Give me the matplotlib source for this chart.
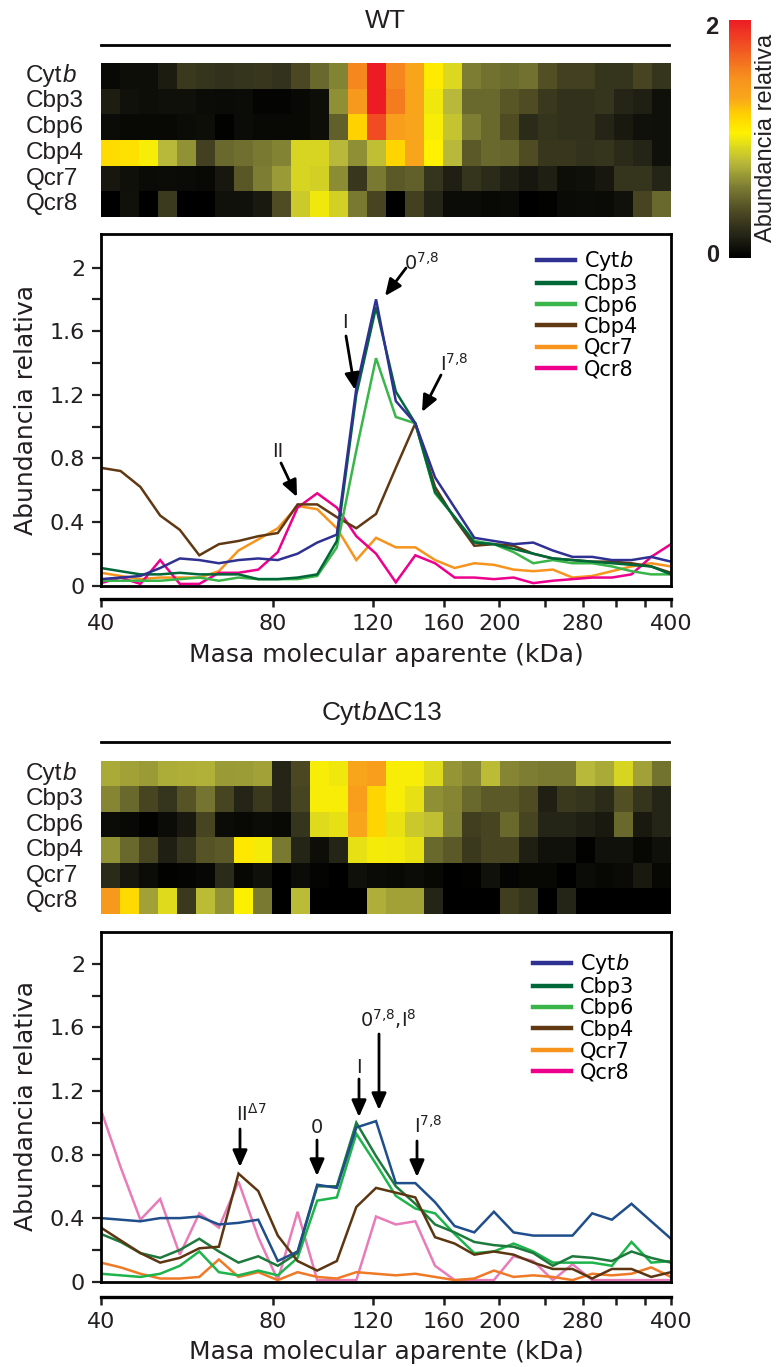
import matplotlib
matplotlib.use('Agg')
import matplotlib.pyplot as plt
from matplotlib.colors import LinearSegmentedColormap
from matplotlib.lines import Line2D
from matplotlib.text import Annotation
from matplotlib.ticker import NullLocator, NullFormatter, FixedLocator

plt.rcParams['mathtext.fontset'] = 'custom'
plt.rcParams['mathtext.rm'] = 'DejaVu Sans'
plt.rcParams['mathtext.it'] = 'DejaVu Sans:italic'

# ---------------- data ----------------
proteins = ['Cytb', 'Cbp3', 'Cbp6', 'Cbp4', 'Qcr7', 'Qcr8']
legend_labels = ['Cyt$\\it{b}$', 'Cbp3', 'Cbp6', 'Cbp4', 'Qcr7', 'Qcr8']

mw = [40.0, 43.3, 46.9, 50.8, 55.0, 59.5, 64.4, 69.7, 75.5, 81.7, 88.5, 95.8,
      103.7, 112.2, 121.5, 131.6, 142.4, 154.2, 166.9, 180.7, 195.6, 211.8,
      229.3, 248.2, 268.7, 290.9, 315.0, 341.0, 369.2, 400.0]

xticks = [40, 80, 120, 160, 200, 240, 280, 320, 360, 400]
xticklabels = ['40', '80', '120', '160', '200', '', '280', '', '', '400']
yticks = [0, 0.2, 0.4, 0.6, 0.8, 1.0, 1.2, 1.4, 1.6, 1.8, 2.0]
yticklabels = ['0', '', '0.4', '', '0.8', '', '1.2', '', '1.6', '', '2']

# WT heatmap (rows = proteins, 30 fractions)
wt_heat_cytb = [0.05,0.08,0.08,0.15,0.30,0.28,0.26,0.28,0.29,0.27,0.38,0.52,0.62,1.55,2.00,1.55,1.35,1.08,0.93,0.60,0.55,0.53,0.55,0.42,0.34,0.34,0.28,0.28,0.36,0.28]
wt_heat_cbp3 = [0.16,0.10,0.08,0.09,0.09,0.07,0.06,0.07,0.03,0.03,0.05,0.08,0.66,1.45,2.00,1.60,1.35,1.00,0.80,0.52,0.52,0.44,0.40,0.30,0.26,0.26,0.28,0.20,0.17,0.09]
wt_heat_cbp6 = [0.07,0.05,0.05,0.05,0.07,0.08,0.02,0.07,0.05,0.05,0.05,0.08,0.48,1.20,1.80,1.40,1.35,1.03,0.85,0.60,0.52,0.40,0.23,0.28,0.26,0.26,0.20,0.14,0.10,0.09]
wt_heat_cbp4 = [1.15,1.13,1.03,0.80,0.67,0.34,0.52,0.54,0.58,0.62,0.92,0.92,0.80,0.66,0.83,1.18,1.35,1.05,0.80,0.46,0.52,0.50,0.40,0.29,0.29,0.27,0.28,0.23,0.20,0.09]
wt_heat_qcr7 = [0.13,0.09,0.06,0.07,0.06,0.05,0.13,0.45,0.60,0.70,0.92,0.90,0.65,0.29,0.58,0.46,0.48,0.28,0.17,0.28,0.23,0.17,0.13,0.17,0.08,0.09,0.13,0.28,0.28,0.20]
wt_heat_qcr8 = [0.00,0.10,0.00,0.31,0.00,0.00,0.10,0.10,0.14,0.40,0.88,1.00,0.90,0.58,0.36,0.00,0.34,0.20,0.07,0.07,0.05,0.06,0.00,0.02,0.06,0.07,0.06,0.10,0.36,0.52]

# Cytb-dC13 heatmap
mut_heat_cytb = [0.75,0.72,0.70,0.76,0.77,0.78,0.70,0.71,0.72,0.20,0.38,1.03,1.00,1.35,1.40,1.03,1.03,0.94,0.68,0.63,0.82,0.63,0.60,0.58,0.58,0.80,0.75,0.92,0.72,0.56]
mut_heat_cbp3 = [0.63,0.52,0.36,0.28,0.43,0.57,0.36,0.20,0.30,0.20,0.36,1.03,1.03,1.40,1.18,1.03,0.97,0.66,0.63,0.52,0.46,0.46,0.40,0.17,0.30,0.28,0.23,0.42,0.28,0.20]
mut_heat_cbp6 = [0.07,0.05,0.02,0.07,0.14,0.36,0.07,0.05,0.07,0.05,0.28,0.95,0.97,1.35,1.18,0.98,0.87,0.83,0.62,0.33,0.36,0.52,0.36,0.20,0.20,0.17,0.14,0.52,0.14,0.20]
mut_heat_cbp4 = [0.67,0.52,0.36,0.17,0.28,0.43,0.46,1.10,1.02,0.58,0.20,0.08,0.20,0.97,1.02,1.01,0.98,0.52,0.46,0.30,0.36,0.36,0.17,0.10,0.10,0.02,0.10,0.10,0.04,0.09]
mut_heat_qcr7 = [0.23,0.13,0.07,0.02,0.03,0.04,0.23,0.04,0.09,0.00,0.07,0.03,0.00,0.09,0.06,0.05,0.07,0.04,0.00,0.02,0.10,0.03,0.04,0.04,0.00,0.07,0.04,0.06,0.14,0.04]
mut_heat_qcr8 = [1.45,1.16,0.72,0.95,0.30,0.82,0.67,1.04,0.58,0.00,0.82,0.00,0.00,0.00,0.77,0.72,0.72,0.20,0.00,0.00,0.00,0.33,0.28,0.00,0.20,0.00,0.00,0.00,0.00,0.00]

# WT profiles
wt_cytb = [0.04,0.05,0.06,0.11,0.17,0.16,0.14,0.16,0.17,0.16,0.20,0.27,0.32,1.24,1.80,1.16,1.02,0.68,0.49,0.30,0.28,0.26,0.27,0.22,0.18,0.18,0.16,0.16,0.18,0.15]
wt_cbp3 = [0.11,0.09,0.07,0.07,0.08,0.07,0.07,0.07,0.04,0.04,0.05,0.07,0.28,1.20,1.75,1.22,1.02,0.59,0.43,0.27,0.26,0.23,0.20,0.17,0.16,0.15,0.14,0.13,0.12,0.07]
wt_cbp6 = [0.03,0.03,0.03,0.03,0.04,0.05,0.03,0.05,0.04,0.04,0.04,0.06,0.24,0.85,1.43,1.06,1.02,0.58,0.43,0.28,0.26,0.21,0.14,0.16,0.14,0.14,0.12,0.09,0.07,0.07]
wt_cbp4 = [0.74,0.72,0.62,0.44,0.35,0.19,0.26,0.28,0.31,0.33,0.51,0.51,0.43,0.36,0.45,0.74,1.02,0.62,0.42,0.25,0.26,0.25,0.20,0.17,0.16,0.15,0.15,0.14,0.12,0.08]
wt_qcr7 = [0.08,0.06,0.04,0.05,0.05,0.05,0.09,0.22,0.29,0.36,0.50,0.48,0.36,0.16,0.30,0.24,0.24,0.16,0.11,0.14,0.13,0.10,0.09,0.10,0.05,0.06,0.09,0.12,0.14,0.12]
wt_qcr8 = [0.015,0.05,0.01,0.16,0.01,0.01,0.08,0.08,0.10,0.21,0.49,0.58,0.49,0.31,0.20,0.02,0.19,0.14,0.05,0.05,0.04,0.05,0.015,0.03,0.04,0.05,0.05,0.07,0.18,0.26]

# Cytb-dC13 profiles
mut_cytb = [0.40,0.39,0.38,0.40,0.40,0.41,0.36,0.37,0.39,0.13,0.19,0.61,0.59,0.97,1.01,0.62,0.62,0.50,0.35,0.31,0.44,0.31,0.29,0.29,0.29,0.43,0.39,0.49,0.38,0.27]
mut_cbp3 = [0.30,0.25,0.18,0.15,0.20,0.27,0.19,0.12,0.16,0.10,0.18,0.60,0.60,1.00,0.79,0.60,0.49,0.36,0.31,0.25,0.23,0.22,0.18,0.10,0.16,0.15,0.13,0.19,0.15,0.12]
mut_cbp6 = [0.05,0.04,0.03,0.05,0.10,0.19,0.06,0.04,0.07,0.04,0.15,0.51,0.53,0.93,0.74,0.54,0.46,0.43,0.30,0.18,0.19,0.24,0.19,0.12,0.12,0.12,0.10,0.25,0.12,0.13]
mut_cbp4 = [0.34,0.26,0.18,0.12,0.15,0.21,0.22,0.68,0.57,0.29,0.13,0.07,0.13,0.47,0.59,0.56,0.53,0.28,0.24,0.17,0.19,0.17,0.12,0.08,0.08,0.02,0.08,0.08,0.03,0.06]
mut_qcr7 = [0.12,0.09,0.05,0.02,0.02,0.03,0.14,0.03,0.06,0.01,0.06,0.03,0.02,0.06,0.05,0.04,0.05,0.03,0.01,0.02,0.07,0.03,0.04,0.03,0.01,0.05,0.04,0.05,0.09,0.03]
mut_qcr8 = [1.08,0.72,0.39,0.52,0.17,0.43,0.34,0.63,0.28,0.01,0.44,0.01,0.01,0.01,0.41,0.36,0.38,0.10,0.01,0.01,0.01,0.16,0.13,0.01,0.11,0.01,0.01,0.01,0.01,0.01]

# ---------------- styling ----------------
legend_colors = ['#2E3192', '#006838', '#39B54A', '#603913', '#F7941D', '#EC008C']
wt_colors = ['#2E3192', '#006838', '#39B54A', '#603913', '#F7941D', '#EC008C']
mut_colors = ['#1F4E8A', '#1E7A3C', '#1DB44C', '#5C3511', '#EE7A28', '#E87CB8']

cmap = LinearSegmentedColormap.from_list('abund', [
    (0.0, '#000000'), (0.1, '#262618'), (0.2, '#4f4c24'), (0.3, '#7e7e34'),
    (0.4, '#b8b83a'), (0.475, '#e0dc1c'), (0.525, '#fff200'), (0.6, '#ffd200'),
    (0.675, '#f9a51c'), (0.75, '#f7941d'), (0.85, '#f26522'), (1.0, '#ed1c24')])

W, H = 777, 1367
fig = plt.figure(figsize=(W / 100, H / 100), dpi=100)
LAB = 'Liberation Sans'
AX = 'DejaVu Sans'
TXT = '#231f20'


def pax(x0, y0, x1, y1):
    return fig.add_axes([x0 / W, 1 - y1 / H, (x1 - x0) / W, (y1 - y0) / H])


def rich(x, y, parts, size, family=LAB, va='center'):
    prev = fig.text(x / W, 1 - y / H, parts[0][0], fontsize=size, family=family,
                    style=parts[0][1], ha='left', va=va, color=TXT)
    for s, st in parts[1:]:
        a = Annotation(s, xy=(1, 0), xycoords=prev, ha='left', va='bottom',
                       fontsize=size, family=family, style=st, color=TXT)
        fig.add_artist(a)
        prev = a


def panel(title_parts, title_x, title_y, title_center, rule_y, heat_box, heat_rows,
          plot_box, axis_y, profiles, colors, order, annots, arrows, leg_px,
          ticklab_pad, xlabel_y, ylabel_y):
    # title + rule
    if title_center:
        fig.text(title_x / W, 1 - title_y / H, title_parts[0][0], fontsize=19,
                 family=LAB, ha='center', va='center', color=TXT)
    else:
        rich(title_x, title_y, title_parts, 19)
    fig.add_artist(Line2D([101 / W, 669 / W], [1 - rule_y / H, 1 - rule_y / H],
                          color='black', lw=2.0, transform=fig.transFigure))
    # heatmap
    hx0, hy0, hx1, hy1 = heat_box
    axh = pax(hx0, hy0, hx1, hy1)
    im = axh.imshow(heat_rows, aspect='auto', cmap=cmap, vmin=0, vmax=2,
                    interpolation='nearest')
    axh.set_axis_off()
    rh = (hy1 - hy0) / len(proteins)
    for i, p in enumerate(proteins):
        yy = hy0 + (i + 0.5) * rh
        if p == 'Cytb':
            rich(26, yy, [('Cyt', 'normal'), ('b', 'italic')], 17.5)
        else:
            rich(26, yy, [(p, 'normal')], 17.5)
    # plot
    x0, y0, x1, y1 = plot_box
    ax = pax(x0, y0, x1, y1)
    ax.set_xscale('log')
    ax.set_xlim(40, 400)
    ax.set_ylim(0, (y1 - y0) / 159.0)
    for idx in order:
        ax.plot(mw, profiles[idx], color=colors[idx], lw=1.8, solid_joinstyle='miter')
    ax.xaxis.set_major_locator(NullLocator())
    ax.xaxis.set_minor_locator(NullLocator())
    ax.tick_params(axis='x', which='both', bottom=False, labelbottom=False)
    ax.set_yticks(yticks)
    ax.set_yticklabels(yticklabels)
    ax.tick_params(axis='y', direction='out', length=6.5, width=1.6, pad=5,
                   labelsize=16, colors=TXT)
    for lab in ax.get_yticklabels():
        lab.set_family(AX)
    for sp in ax.spines.values():
        sp.set_linewidth(2.0)
    # legend
    handles = [Line2D([], [], color=c, lw=3.2) for c in legend_colors]
    lx, ly = leg_px
    ax.legend(handles, legend_labels, loc='upper left',
              bbox_to_anchor=((lx - x0) / (x1 - x0), (y1 - ly) / (y1 - y0)),
              frameon=False, borderpad=0, borderaxespad=0, handlelength=1.8,
              handletextpad=0.45, labelspacing=0.06,
              prop=dict(family=AX, size=15))

    def fr(px, py):
        return ((px - x0) / (x1 - x0), (y1 - py) / (y1 - y0))

    for (px, py, s, ha) in annots:
        ax.text(*fr(px, py), s, transform=ax.transAxes, ha=ha, va='baseline',
                fontsize=14, family=AX, color=TXT)
    for (tx, ty, hx, hy) in arrows:
        ax.annotate('', xy=fr(hx, hy), xycoords='axes fraction',
                    xytext=fr(tx, ty), textcoords='axes fraction',
                    arrowprops=dict(arrowstyle='-|>,head_length=0.5,head_width=0.22',
                                    color='black', lw=2.0, shrinkA=0, shrinkB=0,
                                    mutation_scale=20))
    # separate x axis line
    axx = pax(x0, axis_y - 6, x1, axis_y)
    axx.set_xscale('log')
    axx.set_xlim(40, 400)
    axx.patch.set_alpha(0)
    for k in ['top', 'left', 'right']:
        axx.spines[k].set_visible(False)
    axx.spines['bottom'].set_linewidth(2.4)
    axx.set_yticks([])
    axx.xaxis.set_major_locator(FixedLocator(xticks))
    axx.set_xticklabels(xticklabels)
    axx.xaxis.set_minor_locator(NullLocator())
    axx.xaxis.set_minor_formatter(NullFormatter())
    axx.tick_params(axis='x', direction='out', length=6, width=1.8, pad=ticklab_pad,
                    labelsize=16, colors=TXT)
    for lab in axx.get_xticklabels():
        lab.set_family(AX)
    fig.text(386 / W, 1 - xlabel_y / H, 'Masa molecular aparente (kDa)', fontsize=18,
             family=AX, ha='center', va='center', color=TXT)
    fig.text(26 / W, 1 - ylabel_y / H, 'Abundancia relativa', fontsize=18,
             family=AX, ha='center', va='center', rotation=90, color=TXT)
    return im


wt_heat = [wt_heat_cytb, wt_heat_cbp3, wt_heat_cbp6, wt_heat_cbp4, wt_heat_qcr7, wt_heat_qcr8]
mut_heat = [mut_heat_cytb, mut_heat_cbp3, mut_heat_cbp6, mut_heat_cbp4, mut_heat_qcr7, mut_heat_qcr8]
wt_prof = [wt_cytb, wt_cbp3, wt_cbp6, wt_cbp4, wt_qcr7, wt_qcr8]
mut_prof = [mut_cytb, mut_cbp3, mut_cbp6, mut_cbp4, mut_qcr7, mut_qcr8]

im = panel([('WT', 'normal')], 385, 21, True, 45, (101, 63, 671, 217), wt_heat,
           (101, 234, 671, 585.5), 599, wt_prof, wt_colors, [4, 5, 3, 2, 1, 0],
           [(404, 270, '$\\mathregular{0^{7{,}8}}$', 'left'),
            (345, 328, 'I', 'center'),
            (440, 371, '$\\mathregular{I^{7{,}8}}$', 'left'),
            (278, 457, 'II', 'center')],
           [(406, 268, 385, 296), (346, 336, 355, 390), (441, 375, 422, 412),
            (281, 463, 297, 497)],
           (537, 249), 5, 655, 410)

panel([('Cyt', 'normal'), ('b', 'italic'), ('\u0394C13', 'normal')], 322, 713, False, 742,
      (101, 761, 671, 914), mut_heat,
      (101, 932, 671, 1281.7), 1297, mut_prof, mut_colors, [5, 4, 2, 1, 3, 0],
      [(236, 1121, '$\\mathregular{II^{\u03947}}$', 'left'),
       (317, 1133, '0', 'center'),
       (359, 1073, 'I', 'center'),
       (360, 1027, '$\\mathregular{0^{7{,}8}{,}I^{8}}$', 'left'),
       (414, 1133, '$\\mathregular{I^{7{,}8}}$', 'left')],
      [(240, 1129, 240, 1167), (317, 1140, 317, 1176), (359, 1079, 359, 1117),
       (379, 1034, 379, 1110), (417, 1141, 417, 1177)],
      (533, 952), 5, 1352, 1106)

# colorbar
cax = pax(729, 20, 751, 258)
cb = fig.colorbar(im, cax=cax)
cb.set_ticks([])
cb.outline.set_visible(False)
fig.text(712 / W, 1 - 27 / H, '2', fontsize=17, family=LAB, weight='bold',
         ha='center', va='center', color=TXT)
fig.text(713 / W, 1 - 256 / H, '0', fontsize=17, family=LAB, weight='bold',
         ha='center', va='center', color=TXT)
fig.text(766 / W, 1 - 138 / H, 'Abundancia relativa', fontsize=17, family=LAB,
         rotation=90, ha='center', va='center', color=TXT)

fig.savefig('out.png', dpi=100)
